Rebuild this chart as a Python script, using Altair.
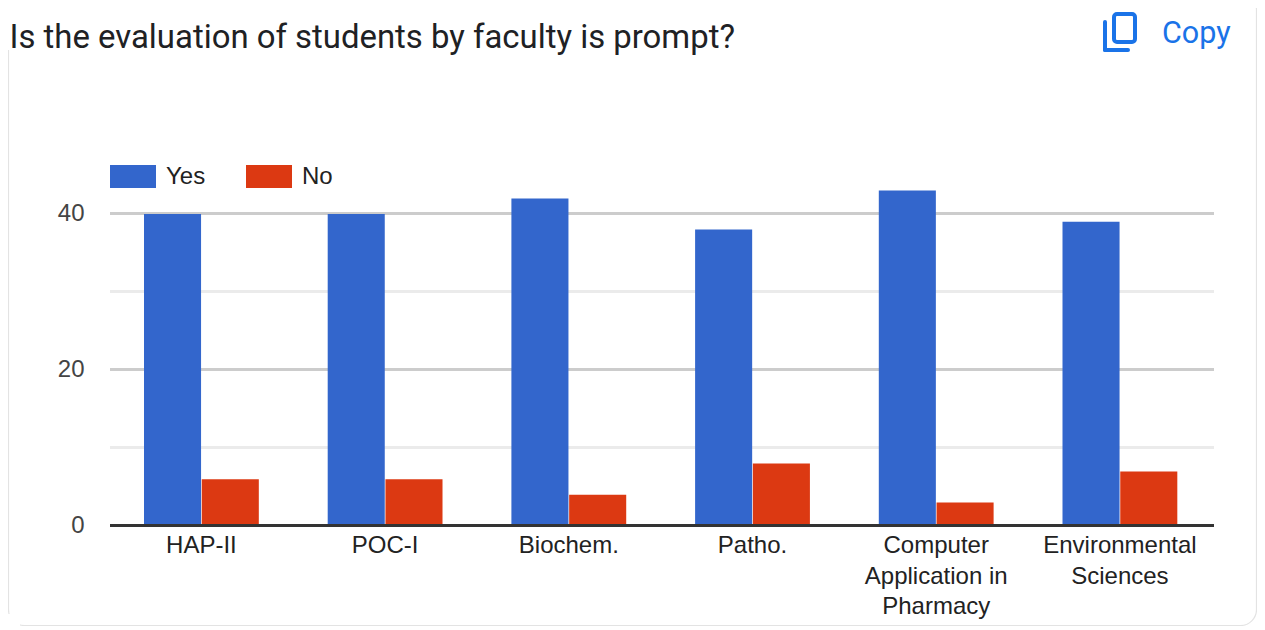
import altair as alt
import pandas as pd

title = "Is the evaluation of students by faculty is prompt?"
copy_label = "Copy"
categories = ["HAP-II", "POC-I", "Biochem.", "Patho.", "Computer Application in Pharmacy", "Environmental Sciences"]
wrapped = {
    "Computer Application in Pharmacy": ["Computer", "Application in", "Pharmacy"],
    "Environmental Sciences": ["Environmental", "Sciences"],
}
series = ["Yes", "No"]
yes_values = [40, 40, 42, 38, 43, 39]
no_values = [6, 6, 4, 8, 3, 7]
major_grid = [20, 40]
minor_grid = [10, 30]
baseline = [0]
y_ticks = [0, 20, 40]
colors = ["#3366cc", "#dc3912"]

X0, Y0, W, H = 110, 135.5, 1104, 390
BLUE = "#1a73e8"
ARIAL = "Liberation Sans"


def px(v):
    return v - X0


def py(v):
    return v - Y0


one = alt.Data(values=[{}])
rows = [
    {"cat": c, "series": s, "value": v}
    for s, vals in zip(series, [yes_values, no_values])
    for c, v in zip(categories, vals)
]
df = pd.DataFrame(rows)

y_scale = alt.Scale(domain=[0, 50], nice=False)
y_axis = alt.Axis(
    values=y_ticks, domain=False, ticks=False, grid=False, labelFontSize=24, title=None,
    labelColor="#444444", labelFont=ARIAL, labelPadding=26,
)
label_expr = " : ".join([f"datum.label == {k!r} ? {v!r}" for k, v in wrapped.items()]) + " : datum.label"

card = alt.Chart(one).mark_rect(
    fill="transparent", stroke="#e3e3e3", strokeWidth=1.2, cornerRadius=16
).encode(
    x=alt.value(px(8.5)), x2=alt.value(px(1256.5)), y=alt.value(py(-6)), y2=alt.value(py(625.5))
)
card_cover = alt.Chart(one).mark_rect(fill="white").encode(
    x=alt.value(px(7)), x2=alt.value(px(20)), y=alt.value(py(614)), y2=alt.value(py(628))
)
card_cover_top = alt.Chart(one).mark_rect(fill="white").encode(
    x=alt.value(px(7)), x2=alt.value(px(11)), y=alt.value(py(0)), y2=alt.value(py(50))
)

minor = alt.Chart(pd.DataFrame({"v": minor_grid})).mark_rule(color="#ebebeb", strokeWidth=3).encode(
    y=alt.Y("v:Q", scale=y_scale, axis=y_axis)
)
major = alt.Chart(pd.DataFrame({"v": major_grid})).mark_rule(color="#cccccc", strokeWidth=3).encode(
    y=alt.Y("v:Q", scale=y_scale, axis=y_axis)
)

bars = alt.Chart(df).mark_bar(yOffset=0.5).encode(
    x=alt.X(
        "cat:N",
        sort=categories,
        title=None,
        scale=alt.Scale(paddingInner=0.375, paddingOuter=0.1924, align=0.481),
        axis=alt.Axis(
            domain=False, ticks=False, labelAngle=0, labelFontSize=24, labelColor="#222222",
            labelFont=ARIAL, labelPadding=8, labelLimit=300, labelLineHeight=30.5,
            labelBaseline="top", labelExpr=label_expr,
        ),
    ),
    xOffset=alt.XOffset("series:N", sort=series, scale=alt.Scale(domain=series, paddingInner=0.012)),
    y=alt.Y("value:Q", scale=y_scale, axis=y_axis),
    color=alt.Color(
        "series:N",
        sort=series,
        scale=alt.Scale(domain=series, range=colors),
        legend=alt.Legend(
            orient="none", legendX=0, legendY=18, direction="horizontal", title=None,
            symbolType="M-1,-0.5H1V0.5H-1Z", symbolSize=2116, symbolStrokeWidth=0,
            symbolOpacity=1, labelFontSize=24, labelFont=ARIAL, labelColor="#222222",
            labelOffset=10, columnPadding=40,
        ),
    ),
)

base = alt.Chart(pd.DataFrame({"v": baseline})).mark_rule(color="#333333", strokeWidth=3).encode(
    y=alt.Y("v:Q", scale=y_scale, axis=y_axis)
)

title_mark = alt.Chart(one).mark_text(
    text=title, font="Roboto", fontSize=32.9, color="#202124", align="left", baseline="alphabetic"
).encode(x=alt.value(px(9.5)), y=alt.value(py(47.5)))
copy_mark = alt.Chart(one).mark_text(
    text=copy_label, font="Roboto", fontSize=30.5, fontWeight=400, color=BLUE, align="left",
    baseline="alphabetic"
).encode(x=alt.value(px(1162)), y=alt.value(py(43)))
icon_front = alt.Chart(one).mark_rect(
    fill="white", stroke=BLUE, strokeWidth=4, cornerRadius=3
).encode(x=alt.value(px(1114)), x2=alt.value(px(1135)), y=alt.value(py(14)), y2=alt.value(py(42)))
icon_left = alt.Chart(one).mark_rule(color=BLUE, strokeWidth=4, strokeCap="round").encode(
    x=alt.value(px(1105)), y=alt.value(py(22)), y2=alt.value(py(50))
)
icon_bottom = alt.Chart(one).mark_rule(color=BLUE, strokeWidth=4, strokeCap="round").encode(
    x=alt.value(px(1105)), x2=alt.value(px(1128)), y=alt.value(py(50))
)

chart = alt.layer(
    card, card_cover, card_cover_top, minor, major, bars, base,
    title_mark, copy_mark, icon_front, icon_left, icon_bottom,
).properties(
    width=W,
    height=H,
    padding={"left": X0 - 8, "top": Y0 - 8, "right": 1257 - X0 - W, "bottom": 100},
    autosize=alt.AutoSizeParams(type="none"),
).configure_view(stroke=None)

chart.save("out.html", embed_options={"renderer": "svg", "actions": False})
